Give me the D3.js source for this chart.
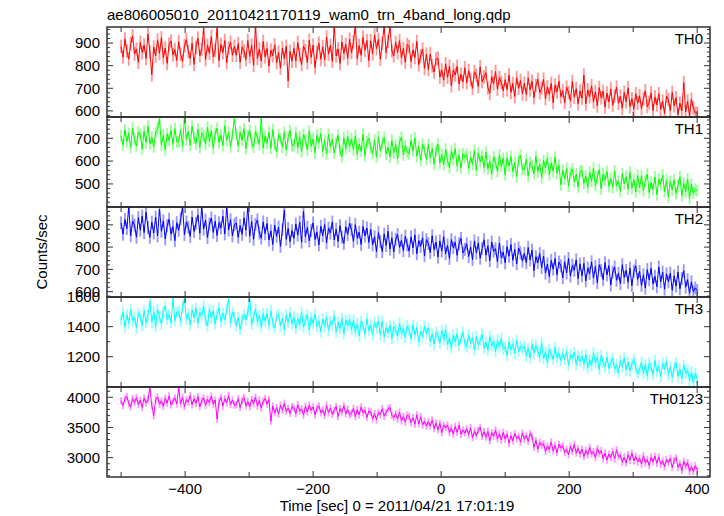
<!DOCTYPE html>
<html><head><meta charset="utf-8">
<script src="https://cdn.jsdelivr.net/npm/d3@7"></script>
<style>body{margin:0;background:#fff} text{font-family:"Liberation Sans",Arial,Helvetica,sans-serif}</style>
</head><body><svg id="c" width="724" height="516"></svg>
<script>
const title = "ae806005010_20110421170119_wam0_trn_4band_long.qdp";
const xLabel = "Time [sec] 0 = 2011/04/21 17:01:19";
const yLabel = "Counts/sec";
const panelNames = ["TH0", "TH1", "TH2", "TH3", "TH0123"];
const panelColors = ["#ff0000", "#00ff00", "#0000ff", "#00ffff", "#ff00ff"];
const timeStart = -500, timeStep = 3;

const th0 = [
885,838,918,865,829,897,932,852,874,815,903,858,891,832,940,861,760,882,843,914,854,923,835,878,810,895,909,848,871,823,
906,850,819,888,915,863,832,899,806,881,922,844,873,965,827,890,855,928,839,868,965,822,894,858,911,813,877,903,846,886,
846,898,815,882,865,827,911,840,890,802,975,832,874,820,907,839,876,798,869,844,892,813,859,789,878,831,886,732,863,820,
877,820,902,847,805,886,867,813,912,836,891,792,859,899,828,883,826,926,851,890,819,975,843,874,810,905,854,894,832,917,
857,905,975,831,889,846,926,868,911,822,910,852,936,875,917,829,899,975,858,908,975,866,843,903,858,911,834,876,815,894,
885,818,870,836,907,804,843,873,788,851,783,852,799,772,829,833,750,781,736,808,748,798,711,781,759,797,719,762,728,791,
724,778,739,700,773,757,708,795,729,750,769,702,678,751,721,774,696,747,727,689,738,694,759,682,721,663,747,700,734,676,
723,672,746,693,731,658,712,740,681,700,740,654,706,673,722,636,714,684,731,663,689,636,705,681,643,730,661,698,632,687,
656,758,631,693,663,711,640,685,622,703,658,686,617,679,639,697,625,666,705,634,665,612,682,641,702,619,654,607,676,634,
667,610,654,689,619,637,680,602,662,626,676,607,643,589,665,650,600,682,623,658,583,634,600,725,595,643,578,651,613,590,
590];
const th1 = [
710,671,737,686,722,659,745,694,667,728,716,653,731,681,752,676,704,662,726,740,785,670,713,650,719,691,734,674,742,685,
683,735,665,790,694,729,669,752,702,677,740,660,723,711,674,748,687,732,656,720,744,680,713,668,755,691,726,663,716,785,
717,666,726,692,741,654,712,733,679,661,729,703,673,788,657,710,678,727,657,738,672,640,715,698,661,726,649,704,734,667,
670,724,658,707,641,716,691,649,732,665,697,637,713,681,720,642,691,631,717,661,696,635,681,712,646,620,702,655,708,664,
697,649,711,630,675,643,718,624,684,699,659,633,692,617,706,644,679,703,630,660,618,691,636,672,611,685,704,627,668,640,
631,691,645,702,622,664,603,673,650,607,673,615,655,586,644,675,591,628,584,652,602,571,642,610,654,579,625,570,632,616,
629,568,618,585,646,560,635,597,623,572,638,566,601,543,619,595,554,627,577,612,540,613,578,620,554,594,532,604,626,563,
563,608,534,594,579,545,620,553,586,528,603,569,612,540,591,556,617,547,582,496,560,521,568,490,547,565,509,543,487,555,
556,503,534,485,551,512,569,493,530,563,478,543,518,554,489,524,485,557,492,513,467,545,500,532,477,551,482,520,465,537,
484,535,471,512,543,462,506,476,530,453,521,497,539,466,515,443,511,474,518,458,494,531,449,503,465,522,437,498,460,477,
470];
const th2 = [
909,858,924,883,980,851,917,899,844,933,876,940,865,957,887,844,912,863,934,850,970,871,918,837,896,925,858,892,829,910,
875,926,980,856,913,889,848,935,870,907,945,862,977,881,921,843,904,931,866,916,852,910,886,939,859,980,877,923,850,901,
908,844,897,857,931,876,980,849,915,835,902,922,863,840,913,860,906,832,873,812,899,848,890,803,878,965,835,884,825,874,
839,904,854,912,822,960,847,889,828,875,909,834,868,810,894,851,901,819,885,863,913,832,880,825,896,844,817,892,857,907,
878,826,901,840,867,812,893,850,886,821,880,810,847,779,865,824,780,859,807,871,791,842,778,835,857,799,830,784,849,810,
782,846,796,855,770,829,803,842,761,834,816,775,851,788,823,756,828,782,847,770,809,749,834,797,822,763,815,839,774,790,
815,757,800,744,828,773,819,750,794,833,764,806,739,823,781,793,734,819,752,778,729,802,759,812,741,790,725,796,774,737,
772,730,798,742,787,694,757,730,771,708,760,683,724,667,740,701,749,676,733,716,662,734,684,749,670,719,696,743,659,725,
671,727,648,706,682,734,661,713,640,721,695,654,730,675,717,630,687,711,651,683,636,721,664,696,642,705,627,692,716,655,
691,628,676,616,699,653,705,635,669,622,711,644,688,611,680,644,683,606,671,625,688,613,659,694,620,654,592,644,599,617,
605];
const th3 = [
1445,1497,1397,1480,1422,1515,1438,1463,1390,1492,1469,1409,1507,1427,1474,1570,1431,1500,1400,1516,1465,1418,1503,1538,1448,1481,1426,1590,1440,1494,
1503,1435,1530,1590,1450,1487,1413,1511,1461,1523,1424,1495,1472,1539,1440,1405,1516,1456,1505,1419,1484,1527,1432,1492,1447,1514,1585,1427,1498,1463,
1405,1463,1382,1450,1482,1446,1498,1585,1416,1466,1517,1430,1475,1398,1487,1437,1490,1409,1506,1425,1392,1469,1485,1404,1456,1378,1479,1426,1494,1418,
1466,1388,1453,1414,1495,1397,1444,1479,1378,1460,1423,1485,1402,1438,1366,1451,1399,1462,1375,1436,1411,1473,1366,1429,1388,1456,1353,1444,1406,1448,
1380,1444,1363,1421,1339,1436,1405,1353,1453,1374,1411,1348,1430,1390,1440,1344,1436,1332,1394,1361,1411,1320,1401,1379,1337,1424,1354,1385,1328,1405,
1382,1319,1410,1344,1395,1300,1371,1331,1404,1353,1392,1301,1353,1283,1362,1338,1290,1374,1313,1383,1282,1326,1257,1345,1301,1354,1274,1318,1364,1286,
1267,1345,1288,1329,1246,1337,1279,1308,1350,1257,1296,1244,1335,1271,1304,1232,1311,1263,1322,1250,1265,1208,1298,1246,1287,1220,1309,1235,1272,1254,
1268,1203,1255,1191,1282,1224,1275,1235,1197,1294,1187,1234,1159,1251,1219,1182,1262,1193,1225,1174,1221,1179,1236,1142,1213,1189,1229,1146,1207,1168,
1204,1150,1215,1127,1181,1140,1227,1158,1195,1115,1209,1164,1133,1198,1122,1161,1189,1118,1148,1093,1176,1130,1193,1111,1165,1104,1154,1181,1122,1087,
1111,1165,1089,1147,1074,1158,1131,1081,1174,1100,1139,1067,1155,1116,1168,1077,1133,1061,1126,1160,1070,1118,1053,1144,1088,1113,1043,1097,1025,1089,
1055];
const th0123 = [
3943,3863,3970,4015,3895,3840,3980,3911,3997,3877,3951,3830,3988,3905,3963,4150,3867,3695,3959,4005,3884,3937,3849,3983,3903,4021,3875,3932,3991,3890,
4160,3891,4005,3847,3960,3920,4027,3875,3975,3900,4013,3843,3945,3990,3865,3968,3913,4020,3885,3953,3640,3925,3999,3855,3977,3907,4030,3880,3956,3869,
3875,3977,3830,3943,3995,3860,3929,3843,3965,3897,4003,3855,3950,3819,3935,3981,3885,3963,3600,3855,3740,3832,3722,3870,3785,3900,3765,3820,3732,3848,
3825,3727,3877,3770,3807,3705,3850,3755,3868,3785,3842,3710,3817,3859,3743,3790,3698,3865,3740,3823,3715,3780,3845,3680,3813,3755,3859,3727,3801,3705,
3733,3815,3680,3795,3707,3840,3743,3785,3665,3773,3757,3639,3730,3625,3749,3710,3812,3685,3750,3808,3830,3700,3665,3725,3642,3750,3608,3682,3585,3705,
3685,3580,3662,3555,3710,3557,3678,3542,3605,3520,3597,3525,3625,3481,3573,3463,3570,3415,3540,3495,3542,3415,3490,3390,3518,3420,3537,3385,3459,3407,
3478,3380,3497,3332,3440,3365,3455,3502,3350,3430,3340,3436,3278,3414,3355,3460,3312,3395,3292,3420,3305,3387,3240,3363,3277,3400,3313,3355,3257,3411,
3305,3370,3270,3400,3350,3172,3286,3140,3250,3205,3230,3103,3193,3135,3260,3113,3202,3085,3223,3163,3200,3085,3138,3048,3190,3100,3222,3075,3152,3060,
3140,3018,3118,3045,3172,3060,3102,3002,3150,3072,3115,2985,3075,2960,3060,3000,3108,2978,3130,3015,3040,2925,3010,2910,3050,2960,3075,2945,3020,2930,
2990,2895,3033,2915,2970,2870,3007,2933,3023,2905,3015,2890,2945,2850,2970,2915,2987,2837,2955,2997,2840,2903,2785,2940,2857,2920,2775,2850,2770,2865,
2790];
const seriesValues = [th0, th1, th2, th3, th0123];
const seriesErrors = [30, 26, 29, 37, 60];

const yDomains = [[573, 971], [399, 793], [576, 980], [998, 1598], [2680, 4170]];
const yMajorTicks = [[600, 700, 800, 900], [500, 600, 700], [600, 700, 800, 900], [1200, 1400, 1600], [3000, 3500, 4000]];
const yMinorStep = [20, 20, 20, 100, 100];
const xDomain = [-522, 420];
const xMajorTicks = [-400, -200, 0, 200, 400];
const xMinorTicks = [-500, -300, -100, 100, 300];

// layout
const L = 107, R = 710, T0 = 27, PH = 90;
const svg = d3.select("#c");
const x = d3.scaleLinear().domain(xDomain).range([L, R]);
const fs = 15;

svg.append("text").attr("x", L).attr("y", 20).attr("font-size", fs).attr("fill", "#000").text(title);

seriesValues.forEach((vals, p) => {
  const top = T0 + p * PH, bot = top + PH;
  const y = d3.scaleLinear().domain(yDomains[p]).range([bot, top]);
  const g = svg.append("g");
  const data = vals.map((v, i) => ({t: timeStart + i * timeStep, v}));
  const clipId = "clip" + p;
  svg.append("clipPath").attr("id", clipId).append("rect")
    .attr("x", L).attr("y", top).attr("width", R - L).attr("height", PH);
  const dg = g.append("g").attr("clip-path", `url(#${clipId})`);
  const stepPx = x(timeStep) - x(0);
  const err = seriesErrors[p];
  dg.append("g").attr("stroke", panelColors[p]).attr("stroke-opacity", 0.4)
    .attr("stroke-width", stepPx)
    .selectAll("line").data(data).join("line")
    .attr("x1", d => x(d.t)).attr("x2", d => x(d.t))
    .attr("y1", d => y(d.v - err)).attr("y2", d => y(d.v + err));
  dg.append("path").datum(data)
    .attr("d", d3.line().x(d => x(d.t)).y(d => y(d.v)))
    .attr("fill", "none").attr("stroke", panelColors[p]).attr("stroke-width", 1);

  // frame
  g.append("rect").attr("x", L).attr("y", top).attr("width", R - L).attr("height", PH)
    .attr("fill", "none").attr("stroke", "#222").attr("stroke-width", 1.4);

  // y ticks
  const [d0, d1] = yDomains[p];
  const minor = d3.range(Math.ceil(d0 / yMinorStep[p]) * yMinorStep[p], d1, yMinorStep[p])
    .filter(v => !yMajorTicks[p].includes(v));
  const tk = g.append("g").attr("stroke", "#333").attr("stroke-width", 1);
  minor.forEach(v => {
    tk.append("line").attr("x1", L).attr("x2", L + 3).attr("y1", y(v)).attr("y2", y(v));
    tk.append("line").attr("x1", R).attr("x2", R - 3).attr("y1", y(v)).attr("y2", y(v));
  });
  yMajorTicks[p].forEach(v => {
    tk.append("line").attr("x1", L).attr("x2", L + 6).attr("y1", y(v)).attr("y2", y(v));
    tk.append("line").attr("x1", R).attr("x2", R - 6).attr("y1", y(v)).attr("y2", y(v));
    g.append("text").attr("x", L - 7).attr("y", y(v)).attr("dy", "0.36em")
      .attr("text-anchor", "end").attr("font-size", fs).attr("fill", "#000").text(v);
  });
  // x ticks
  xMinorTicks.forEach(v => {
    tk.append("line").attr("x1", x(v)).attr("x2", x(v)).attr("y1", top).attr("y2", top + 5);
    tk.append("line").attr("x1", x(v)).attr("x2", x(v)).attr("y1", bot).attr("y2", bot - 5);
  });
  xMajorTicks.forEach(v => {
    tk.append("line").attr("x1", x(v)).attr("x2", x(v)).attr("y1", top).attr("y2", top + 6);
    tk.append("line").attr("x1", x(v)).attr("x2", x(v)).attr("y1", bot).attr("y2", bot - 6);
  });
  g.append("text").attr("x", R - 7).attr("y", top + 17).attr("text-anchor", "end")
    .attr("font-size", fs).attr("fill", "#000").text(panelNames[p]);
});

const bottom = T0 + 5 * PH;
xMajorTicks.forEach(v => {
  svg.append("text").attr("x", x(v)).attr("y", bottom + 17).attr("text-anchor", "middle")
    .attr("font-size", fs).attr("fill", "#000").text(v < 0 ? "\u2212" + Math.abs(v) : v);
});
svg.append("text").attr("x", 397).attr("y", 511).attr("text-anchor", "middle")
  .attr("font-size", fs).attr("fill", "#000").text(xLabel);
svg.append("text").attr("transform", `translate(47,${(T0 + bottom) / 2}) rotate(-90)`)
  .attr("text-anchor", "middle").attr("font-size", fs).attr("fill", "#000").text(yLabel);
</script></body></html>
